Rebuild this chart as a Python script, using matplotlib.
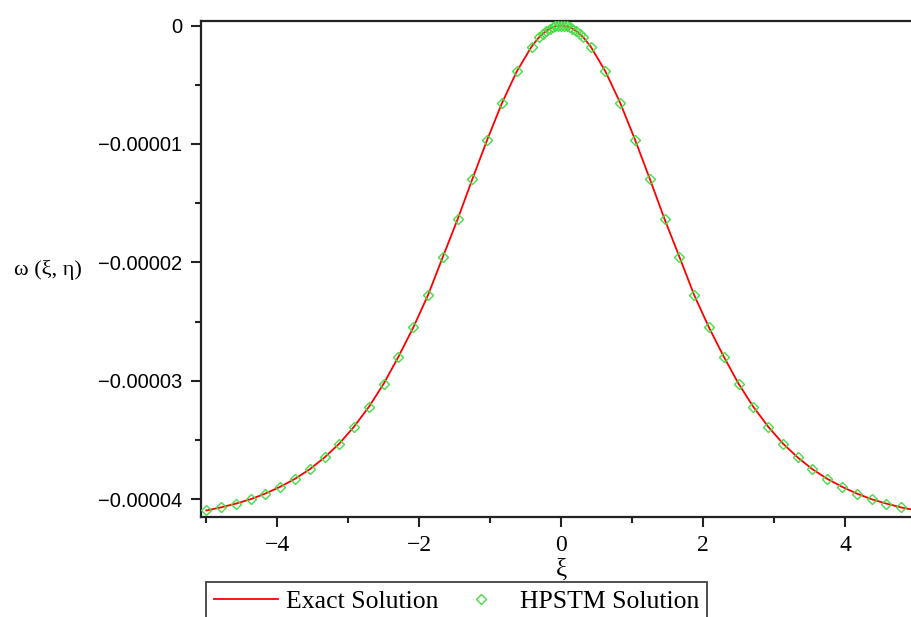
import matplotlib
matplotlib.use("Agg")
import matplotlib.pyplot as plt
from matplotlib.ticker import MultipleLocator

# values (omega in units of 1e-5)
xi_half = [0.0, 0.04, 0.08, 0.12, 0.16, 0.208, 0.26, 0.3125, 0.417, 0.625,
           0.833, 1.042, 1.25, 1.458, 1.667, 1.875, 2.083, 2.292, 2.5, 2.708,
           2.917, 3.125, 3.333, 3.542, 3.75, 3.958, 4.167, 4.375, 4.583,
           4.792, 5.0]
omega_half = [0.0, -0.002, -0.007, -0.015, -0.027, -0.045, -0.071, -0.10,
              -0.178, -0.388, -0.654, -0.965, -1.295, -1.635, -1.953, -2.275,
              -2.548, -2.795, -3.023, -3.218, -3.385, -3.528, -3.645, -3.745,
              -3.826, -3.893, -3.950, -3.998, -4.035, -4.067, -4.093]

xi = [-v for v in xi_half[:0:-1]] + xi_half
omega = [w * 1e-5 for w in (omega_half[:0:-1] + omega_half)]

ytick_vals = [0, -1e-5, -2e-5, -3e-5, -4e-5]
ytick_labels = ["0", "\u22120.00001", "\u22120.00002", "\u22120.00003", "\u22120.00004"]
xtick_vals = [-4, -2, 0, 2, 4]
xtick_labels = ["\u22124", "\u22122", "0", "2", "4"]

serif = ["Liberation Serif", "DejaVu Serif"]

fig = plt.figure(figsize=(9.11, 6.17), dpi=100)
ax = fig.add_axes([200.6 / 911, 1 - 517 / 617, 1 - 200.6 / 911, (517 - 21) / 617])

ax.plot(xi, omega, color="#ff0000", lw=1.3, label="Exact Solution", zorder=2)
ax.plot(xi, omega, ls="none", marker="D", ms=5, mfc="none", mec="#44dd44",
        mew=1.0, label="HPSTM Solution", zorder=3)

ax.set_xlim(-5.08, 4.93)
ax.set_ylim(-4.148e-5, 0.038e-5)

ax.set_xticks(xtick_vals)
ax.set_xticklabels(xtick_labels, family=serif, fontsize=17)
ax.xaxis.set_minor_locator(MultipleLocator(1))
ax.set_yticks(ytick_vals)
ax.set_yticklabels(ytick_labels, family="Liberation Sans", fontsize=14.5)
ax.yaxis.set_minor_locator(MultipleLocator(0.5e-5))

ax.tick_params(which="major", direction="out", length=7, width=1.5, color="#222222")
ax.tick_params(which="minor", direction="out", length=4.5, width=1.5, color="#222222")
ax.tick_params(axis="y", pad=6)
ax.tick_params(axis="x", pad=6)

for s in ["left", "bottom", "top"]:
    ax.spines[s].set_linewidth(1.6)
    ax.spines[s].set_color("#222222")
ax.spines["right"].set_visible(False)

fig.text(561 / 911, 1 - 570 / 617, "\u03be", family=serif, fontsize=18,
         ha="center", va="center")
fig.text(48 / 911, 1 - 270 / 617, "\u03c9 (\u03be, \u03b7)", family=serif,
         fontsize=16, ha="center", va="center")

leg = fig.legend(loc="upper left", bbox_to_anchor=(206 / 911, 1 - 582 / 617),
                 ncol=2, prop={"family": serif, "size": 18.5}, frameon=True,
                 fancybox=False, borderpad=0.3, handlelength=2.5,
                 handletextpad=0.3, columnspacing=0.4, borderaxespad=0)
leg.get_frame().set_edgecolor("#111111")
leg.get_frame().set_linewidth(1.3)

fig.savefig("out.png", dpi=100)
